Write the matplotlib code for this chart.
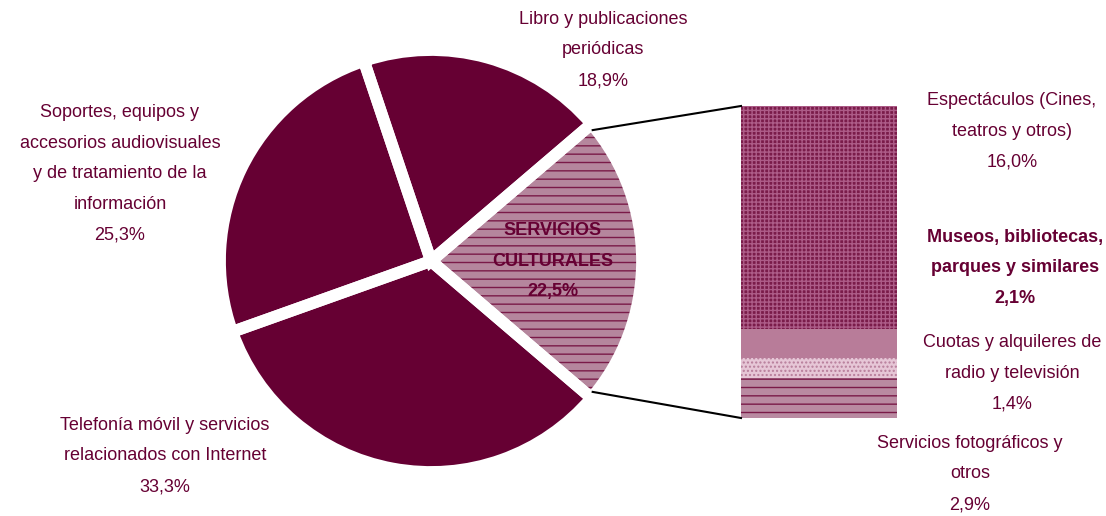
import numpy as np
import matplotlib
matplotlib.use("Agg")
import matplotlib.pyplot as plt

plt.rcParams['font.family'] = ['Liberation Sans', 'DejaVu Sans']
plt.rcParams['hatch.linewidth'] = 1.0

# main pie (counterclockwise from the cultural services slice)
pie_labels = ['SERVICIOS\nCULTURALES\n22,5%',
              'Libro y publicaciones\nperiódicas\n18,9%',
              'Soportes, equipos y\naccesorios audiovisuales\ny de tratamiento de la\ninformación\n25,3%',
              'Telefonía móvil y servicios\nrelacionados con Internet\n33,3%']
pie_values = [22.5, 18.9, 25.3, 33.3]

# breakdown of cultural services (top to bottom of the bar)
bar_labels = ['Espectáculos (Cines,\nteatros y otros)\n16,0%',
              'Museos, bibliotecas,\nparques y similares\n2,1%',
              'Cuotas y alquileres de\nradio y televisión\n1,4%',
              'Servicios fotográficos y\notros\n2,9%']
bar_values = [16.0, 2.1, 1.4, 2.9]

MAROON = '#660033'
W, H = 1106, 516

fig = plt.figure(figsize=(W / 100, H / 100), dpi=100)
ax = fig.add_axes([0, 0, 1, 1])

cx, cy, r = 431, H - 261, 211
startangle = -pie_values[0] / 100 * 360 / 2
explode = [0.03, 0.012, 0.012, 0.012]
pie_kw = dict(center=(cx, cy), radius=r, startangle=startangle,
              counterclock=True, explode=explode)
wedges, _ = ax.pie(pie_values, colors=['#b5869d', MAROON, MAROON, MAROON],
                   wedgeprops=dict(linewidth=0), **pie_kw)
wedges[0].set_hatch('--')
wedges[0].set_edgecolor('#7a1a48')
# white outlines give the gaps between slices
outlines, _ = ax.pie(pie_values, wedgeprops=dict(fill=False, edgecolor='white', linewidth=8.5),
                     **pie_kw)
ax.set_xlim(0, W)
ax.set_ylim(0, H)
ax.set_aspect('equal')
ax.axis('off')

# text around the pie
txt = dict(color=MAROON, fontsize=13, ha='center', va='center', linespacing=2.05)
ax.text(553, H - 261, pie_labels[0], fontweight='bold', **txt)
ax.text(603, H - 50, pie_labels[1], **txt)
ax.text(120, H - 174, pie_labels[2], **txt)
ax.text(165, H - 456, pie_labels[3], **txt)

# stacked bar of cultural services
bx, bw = 819, 156
scale = 312 / sum(bar_values)
top = H - 106
styles = [dict(color='#7a1c4a', hatch='++++', edgecolor='#ad5c88'),
          dict(color='#b87c99', hatch=None, edgecolor='#b87c99'),
          dict(color='#e6c6d6', hatch='....', edgecolor='#b77d9a'),
          dict(color='#b98aa1', hatch='--', edgecolor='#7a1a48')]
bottom = top
for v, st in zip(bar_values, styles):
    h = v * scale
    bottom -= h
    ax.bar(bx, h, width=bw, bottom=bottom, color=st['color'], hatch=st['hatch'],
           edgecolor=st['edgecolor'], linewidth=0)

# connector lines from the exploded slice to the bar
w0 = wedges[0]
wcx, wcy = w0.center
for ang, yb in [(w0.theta2, top), (w0.theta1, bottom)]:
    px = wcx + (w0.r - 3) * np.cos(np.radians(ang - np.sign(ang) * 1.5))
    py = wcy + (w0.r - 3) * np.sin(np.radians(ang - np.sign(ang) * 1.5))
    ax.plot([px, bx - bw / 2], [py, yb], color='black', lw=1.5)

ax.text(1012, H - 131, bar_labels[0], **txt)
ax.text(1015, H - 268, bar_labels[1], fontweight='bold', **txt)
ax.text(1012, H - 373, bar_labels[2], **txt)
ax.text(970, H - 474, bar_labels[3], **txt)

fig.savefig('out.png', dpi=100)
